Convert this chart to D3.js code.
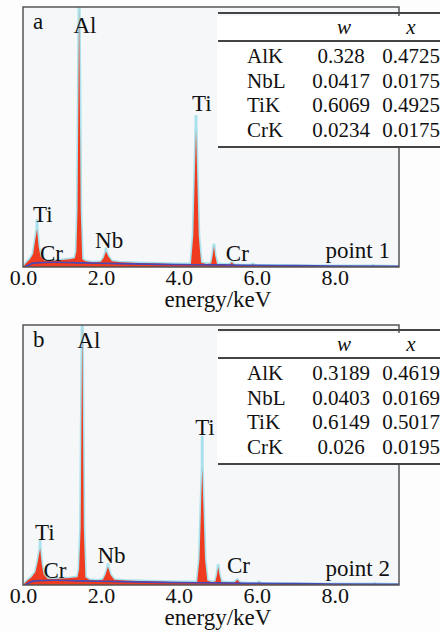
<!DOCTYPE html>
<html>
<head>
<meta charset="utf-8">
<script src="https://cdn.jsdelivr.net/npm/d3@7"></script>
<style>
  body { margin: 0; background: #fdfdfd; }
</style>
</head>
<body>
<div id="chart"></div>
<script>
// spectrum samples (energy in keV, counts in % of full scale)
var energyA = [0, 0.08, 0.18, 0.26, 0.31, 0.36, 0.40, 0.45, 0.55, 0.8, 1.0, 1.2, 1.33, 1.37, 1.40, 1.44, 1.48, 1.52, 1.6, 1.8, 2.0, 2.07, 2.13, 2.19, 2.28, 2.5, 3.0, 3.5, 4.0, 4.31, 4.37, 4.44, 4.51, 4.57, 4.7, 4.83, 4.87, 4.90, 4.93, 4.98, 5.1, 5.3, 5.36, 5.42, 5.6, 5.85, 5.9, 5.96, 6.3, 7.0, 8.0, 8.92, 8.98, 9.04, 9.65];
var countsA = [0, 1.5, 3, 5, 10, 14.5, 8, 4, 2.5, 2.5, 2.7, 3.0, 3.4, 6, 22, 100, 22, 3, 2.2, 1.8, 2.0, 3.5, 6, 4, 2.2, 1.8, 1.5, 1.3, 1.1, 1.2, 12, 53, 12, 1.6, 1.2, 1.3, 4.5, 8, 4.5, 1.2, 1.0, 0.9, 1.8, 0.8, 0.6, 0.6, 1.1, 0.5, 0.5, 0.4, 0.3, 0.3, 0.6, 0.3, 0.2];
var energyB = [0, 0.1, 0.22, 0.32, 0.38, 0.44, 0.48, 0.53, 0.63, 0.8, 1.0, 1.2, 1.40, 1.44, 1.48, 1.52, 1.56, 1.60, 1.7, 1.9, 2.05, 2.12, 2.18, 2.24, 2.34, 2.6, 3.0, 3.5, 4.0, 4.47, 4.53, 4.60, 4.67, 4.73, 4.85, 4.94, 4.98, 5.01, 5.04, 5.09, 5.2, 5.42, 5.5, 5.58, 5.8, 6.0, 6.06, 6.12, 6.5, 7.0, 8.0, 8.95, 9.02, 9.08, 9.65];
var countsB = [0, 1.5, 3, 5, 9, 14, 8, 4, 2.4, 2.3, 2.5, 2.7, 3.0, 6, 22, 100, 22, 3, 2.0, 1.7, 2.0, 4, 7, 4, 2.0, 1.7, 1.5, 1.3, 1.1, 1.2, 10, 45, 10, 1.6, 1.2, 1.3, 4, 7, 4, 1.2, 1.0, 0.9, 2.0, 0.8, 0.6, 0.6, 1.1, 0.5, 0.5, 0.4, 0.3, 0.3, 0.6, 0.3, 0.2];

// cyan fitted tips above the main peaks [energy, counts]
var tipsA = [[0.36, 18], [1.44, 110], [2.13, 7], [4.44, 58], [4.90, 8.6]];
var tipsB = [[0.44, 17], [1.52, 110], [2.18, 8], [4.60, 57], [5.01, 7.6]];

// background fit line
var bgEnergy = [0.05, 0.3, 0.8, 1.5, 2.5, 3.5, 5, 6.5, 8, 9.65];
var bgCounts = [0, 1.6, 1.8, 1.6, 1.3, 1.0, 0.8, 0.6, 0.4, 0.3];

// peak labels [text, energy, counts]
var peaksA = [["Al", 1.59, 90], ["Ti", 4.59, 60], ["Ti", 0.51, 17.5], ["Cr", 0.73, 2.5], ["Nb", 2.21, 7.5], ["Cr", 5.5, 2.5]];
var peaksB = [["Al", 1.69, 91], ["Ti", 4.67, 57.7], ["Ti", 0.56, 17.3], ["Cr", 0.82, 2.7], ["Nb", 2.27, 8.5], ["Cr", 5.53, 4.6]];

var xTicks = [0, 2, 4, 6, 8];
var elements = ["AlK", "NbL", "TiK", "CrK"];
var wA = ["0.328", "0.0417", "0.6069", "0.0234"];
var xA = ["0.4725", "0.0175", "0.4925", "0.0175"];
var wB = ["0.3189", "0.0403", "0.6149", "0.026"];
var xB = ["0.4619", "0.0169", "0.5017", "0.0195"];

var FONT = "'Liberation Serif', 'Times New Roman', Times, serif";
var W = 440, H = 632;
var svg = d3.select("#chart").append("svg").attr("width", W).attr("height", H)
  .attr("font-family", FONT);

var left = 23, right = 399;
var x = d3.scaleLinear().domain([0, 9.65]).range([left, right]);

function txt(sel, size) {
  return sel.append("text").attr("font-size", size).style("font-family", FONT).attr("fill", "#111");
}

function drawPanel(id, top, bottom, tableTop, energy, counts, tips, peaks, wv, xv, letter, pointName) {
  var y = d3.scaleLinear().domain([0, 100]).range([bottom, top]);
  var g = svg.append("g");

  g.append("clipPath").attr("id", "clip" + id)
    .append("rect").attr("x", left).attr("y", top).attr("width", right - left).attr("height", bottom - top);

  g.append("rect").attr("x", left).attr("y", top).attr("width", right - left).attr("height", bottom - top)
    .attr("fill", "#f6f7f9");

  var spec = energy.map(function(e, i) { return [e, counts[i]]; });
  var inner = g.append("g").attr("clip-path", "url(#clip" + id + ")");

  var line = d3.line().x(function(d) { return x(d[0]); }).y(function(d) { return y(d[1]); });
  var area = d3.area().x(function(d) { return x(d[0]); }).y0(y(0)).y1(function(d) { return y(d[1]); });

  // cyan halo
  inner.append("path").datum(spec).attr("d", line)
    .attr("fill", "none").attr("stroke", "#a9e2ec").attr("stroke-width", 3.2).attr("stroke-linejoin", "round");
  inner.selectAll(".tip").data(tips).enter().append("line")
    .attr("x1", function(d) { return x(d[0]); }).attr("x2", function(d) { return x(d[0]); })
    .attr("y1", function(d) { return y(spec.find(function(s) { return s[0] == d[0]; })[1]); })
    .attr("y2", function(d) { return y(d[1]); })
    .attr("stroke", "#a9e2ec").attr("stroke-width", 3).attr("stroke-linecap", "round");

  inner.append("path").datum(spec).attr("d", area).attr("fill", "#ef3b1f");

  var bg = bgEnergy.map(function(e, i) { return [e, bgCounts[i]]; });
  inner.append("path").datum(bg).attr("d", d3.line().curve(d3.curveMonotoneX)
      .x(function(d) { return x(d[0]); }).y(function(d) { return y(d[1]); }))
    .attr("fill", "none").attr("stroke", "#4848b6").attr("stroke-width", 1.6);

  g.append("rect").attr("x", left).attr("y", top).attr("width", right - left).attr("height", bottom - top)
    .attr("fill", "none").attr("stroke", "#555").attr("stroke-width", 1.5);

  // peak labels
  peaks.forEach(function(d) {
    txt(g, 23).attr("x", x(d[1])).attr("y", y(d[2])).attr("text-anchor", "middle").text(d[0]);
  });

  txt(g, 23).attr("x", 33).attr("y", top + 22).text(letter);
  txt(g, 23).attr("x", 390).attr("y", bottom - 9).attr("text-anchor", "end").text(pointName);

  // table
  var tb = g.append("g");
  tb.append("rect").attr("x", 217).attr("y", tableTop + 3).attr("width", W - 217).attr("height", 131).attr("fill", "#fff");
  [0, 28, 134].forEach(function(dy) {
    tb.append("line").attr("x1", 218).attr("x2", W).attr("y1", tableTop + dy).attr("y2", tableTop + dy)
      .attr("stroke", "#444").attr("stroke-width", 1.8);
  });
  txt(tb, 21).attr("x", 344).attr("y", tableTop + 21).attr("text-anchor", "middle")
    .attr("font-style", "italic").text("w");
  txt(tb, 21).attr("x", 411).attr("y", tableTop + 21).attr("text-anchor", "middle")
    .attr("font-style", "italic").text("x");
  elements.forEach(function(el, i) {
    var by = tableTop + 50 + i * 24.5;
    txt(tb, 21).attr("x", 247).attr("y", by).text(el);
    txt(tb, 21).attr("x", 341).attr("y", by).attr("text-anchor", "middle").text(wv[i]);
    txt(tb, 21).attr("x", 411).attr("y", by).attr("text-anchor", "middle").text(xv[i]);
  });

  // x axis labels
  var ax = g.append("g").attr("transform", "translate(0," + bottom + ")")
    .call(d3.axisBottom(x).tickValues(xTicks).tickSize(0).tickPadding(0).tickFormat(d3.format(".1f")));
  ax.attr("font-family", FONT);
  ax.select(".domain").remove();
  ax.selectAll("text").attr("font-size", 22).attr("dy", 18)
    .style("font-family", FONT).attr("fill", "#111");

  txt(g, 23).attr("x", 218).attr("y", bottom + 40).attr("text-anchor", "middle").text("energy/keV");
}

drawPanel("a", 7, 267, 13, energyA, countsA, tipsA, peaksA, wA, xA, "a", "point 1");
drawPanel("b", 325, 585, 330, energyB, countsB, tipsB, peaksB, wB, xB, "b", "point 2");
</script>
</body>
</html>
